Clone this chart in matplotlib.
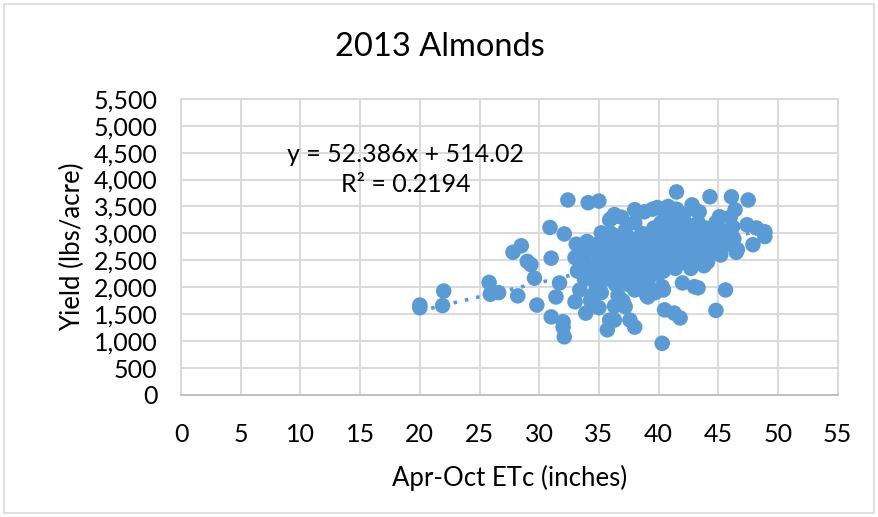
import numpy as np
import matplotlib
matplotlib.use('Agg')
import matplotlib.pyplot as plt
import matplotlib.ticker as ticker
from matplotlib.patches import Rectangle

# Apr-Oct ETc (inches) vs yield (lbs/acre)
etc_inches = [
    20.0, 20.0, 22.0, 21.9, 25.8, 25.9, 26.6, 27.8, 28.5, 28.2,
    29.0, 29.3, 29.6, 29.8, 30.9, 31.0, 31.0, 31.4, 32.0, 32.0,
    32.1, 32.1, 32.4, 31.7, 34.1, 35.0, 33.1, 36.1, 35.2, 34.6,
    33.9, 35.0, 35.9, 35.7, 34.5, 33.0, 40.3, 42.0, 43.0, 40.5,
    41.3, 41.8, 40.3, 38.0, 37.6, 37.2, 39.1, 36.3, 43.3, 45.6,
    44.8, 44.3, 46.1, 47.5, 43.4, 45.1, 46.4, 46.2, 47.4, 48.2,
    48.9, 48.9, 47.9, 46.6, 44.9, 44.1, 45.5, 43.8, 41.5, 38.0,
    39.9, 42.8, 36.3,
    33.2, 33.5, 33.8, 33.4, 33.9, 34.2, 34.5, 34.8, 34.6, 35.0,
    35.3, 35.5, 35.2, 35.8, 35.6, 36.0, 36.2, 36.4, 36.1, 36.5,
    36.8, 36.7, 36.9, 36.6, 37.0, 37.2, 37.3, 37.1, 37.5, 37.4,
    37.7, 37.8, 37.6, 38.0, 38.1, 38.2, 38.3, 38.0, 38.5, 38.6,
    38.7, 38.4, 38.9, 39.0, 39.1, 39.2, 39.4, 39.5, 39.6, 39.3,
    39.8, 39.9, 40.0, 40.1, 40.2, 40.3, 40.4, 40.5, 40.6, 40.7,
    40.8, 40.9, 41.0, 41.1, 41.2, 41.3, 41.4, 41.5, 41.6, 41.7,
    41.8, 41.9, 42.0, 42.1, 42.2, 42.3, 42.4, 42.5, 42.6, 42.8,
    42.9, 43.0, 43.1, 43.3, 43.4, 43.5, 43.7, 43.9, 44.0, 44.2,
    44.4, 44.6, 44.8, 45.0, 45.2, 45.4, 45.7, 46.0, 46.3, 46.5,
    34.0, 34.3, 36.3, 37.9, 39.7, 33.0, 35.9, 36.9, 38.8, 39.5,
    40.8, 41.5, 40.4, 39.0, 42.7, 43.8, 37.0, 38.5, 35.0, 36.0,
]
yield_lbs = [
    1670, 1620, 1930, 1660, 2090, 1870, 1900, 2650, 2770, 1840,
    2480, 2420, 2170, 1670, 3110, 2540, 1450, 1820, 1360, 1260,
    1080, 2990, 3620, 2080, 3570, 3600, 2800, 3290, 3010, 2790,
    1520, 1620, 1390, 1210, 1860, 1730, 2010, 2080, 2010, 1580,
    1520, 1430, 960, 1260, 1390, 1640, 1820, 1390, 1990, 1950,
    1570, 3680, 3680, 3620, 3400, 3310, 3440, 3120, 3160, 3100,
    3030, 2940, 2790, 2700, 2700, 2470, 2940, 2970, 3770, 3440,
    3480, 3530, 3350,
    2300, 2500, 2150, 1950, 2650, 2400, 2250, 2000, 2750, 2550,
    2350, 2150, 1900, 2650, 2850, 2450, 2250, 2050, 2700, 2950,
    2600, 2350, 2150, 1850, 2800, 3050, 2500, 2300, 2050, 2700,
    2900, 2450, 2200, 3200, 2650, 2350, 2850, 1950, 2550, 3000,
    2250, 2750, 2450, 2650, 2100, 2900, 2350, 2550, 3100, 2750,
    2450, 2250, 2700, 2950, 3200, 2500, 2300, 2850, 3350, 2650,
    2400, 3050, 2750, 2550, 3250, 2900, 2350, 2650, 3100, 2800,
    2500, 3000, 2700, 3350, 2600, 2900, 2450, 3150, 2750, 3000,
    2600, 3450, 2800, 3200, 2550, 2950, 2750, 3100, 2600, 2850,
    3000, 2700, 3200, 2850, 2600, 3050, 2800, 3300, 2900, 2650,
    2850, 1750, 1650, 2050, 1900, 2550, 3250, 3300, 3400, 3450,
    3500, 3450, 1950, 1850, 2350, 2400, 1750, 2050, 2750, 3000,
]
slope = 52.386
intercept = 514.02
r_squared = 0.2194

blue = '#5B9BD5'
grid_gray = '#D9D9D9'
plt.rcParams['font.family'] = ['Lato', 'DejaVu Sans']

fig = plt.figure(figsize=(8.79, 5.17), dpi=100)
ax = fig.add_axes([0.206, 0.236, 0.747, 0.573])

x = np.array(etc_inches)
y = np.array(yield_lbs)
ax.scatter(x, y, s=125, color=blue, edgecolors='none', zorder=3)

# linear trendline over the data range
xs = np.array([x.min(), x.max()])
ax.plot(xs, slope * xs + intercept, linestyle=(0, (1, 2.2)), color=blue,
        linewidth=2.6, zorder=2)

ax.set_xlim(0, 55)
ax.set_ylim(0, 5500)
ax.xaxis.set_major_locator(ticker.MultipleLocator(5))
ax.yaxis.set_major_locator(ticker.MultipleLocator(500))
ax.yaxis.set_major_formatter(ticker.StrMethodFormatter('{x:,.0f}'))
ax.grid(True, color=grid_gray, linewidth=1.4, zorder=0)
ax.set_axisbelow(True)
for s in ax.spines.values():
    s.set_color(grid_gray)
    s.set_linewidth(1.4)
ax.spines['bottom'].set_color('#BFBFBF')
ax.tick_params(length=0, labelsize=18, colors='black')
ax.tick_params(axis='y', pad=17)
ax.tick_params(axis='x', pad=20)

ax.set_xlabel('Apr-Oct ETc (inches)', fontsize=18.5, labelpad=14)
ax.set_ylabel('Yield (lbs/acre)', fontsize=18.5, labelpad=6)

ax.text(0.342, 0.811, 'y = %.3fx + %.2f' % (slope, intercept), transform=ax.transAxes,
        ha='center', va='center', fontsize=18)
ax.text(0.342, 0.709, 'R² = %.4f' % r_squared, transform=ax.transAxes,
        ha='center', va='center', fontsize=18)

fig.text(0.5, 0.909, '2013 Almonds', ha='center', va='center', fontsize=23.5)

fig.patches.append(Rectangle((0.004, 0.008), 0.99, 0.984, transform=fig.transFigure,
                             fill=False, edgecolor='#D9D9D9', linewidth=1.2))

fig.savefig('out.png', dpi=100)
